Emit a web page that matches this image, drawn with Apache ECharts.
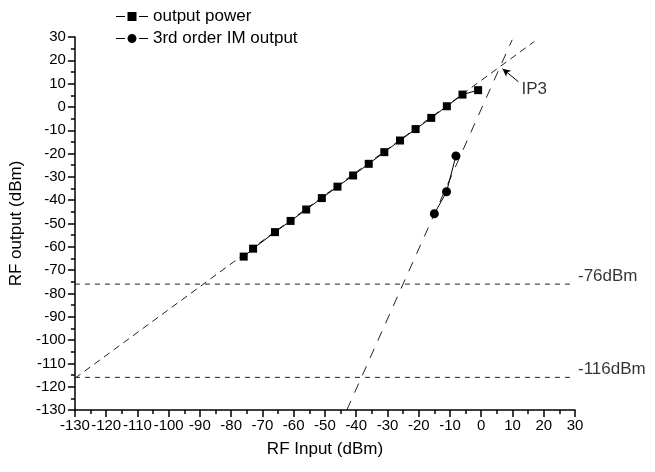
<!DOCTYPE html>
<html>
<head>
<meta charset="utf-8">
<script src="https://cdn.jsdelivr.net/npm/echarts@6/dist/echarts.min.js"></script>
<style>
html,body{margin:0;padding:0;background:#fff;}
#chart{width:655px;height:472px;}
</style>
</head>
<body>
<div id="chart"></div>
<script>
// ---- data ----
const powerIn  = [-76, -73, -66, -61, -56, -51, -46, -41, -36, -31, -26, -21, -16, -11, -6, -1];
const powerOut = [-64.2, -60.8, -53.7, -48.9, -44.0, -39.1, -34.2, -29.4, -24.4, -19.4, -14.4, -9.5, -4.7, 0.3, 5.3, 7.2];
const imIn  = [-15.0, -11.1, -8.1];
const imOut = [-45.8, -36.4, -21.0];
// extrapolation lines (end points)
const fundExtX = [-130, 17];
const fundExtY = [-116.4, 28.1];
const imExtX = [-43, 9.9];
const imExtY = [-130, 28.8];
// sensitivity / noise levels
const levels = [-76, -116];
const levelLabels = ['-76dBm', '-116dBm'];
// IP3 annotation
const ip3Tail = [11.9, 10.8];
const ip3Tip  = [6.8, 16.4];
const ip3Text = 'IP3';
// axis
const axisMin = -130, axisMax = 30, axisStep = 10;
const seriesNames = ['output power', '3rd order IM output'];

const FONT = '"Liberation Sans", Arial, sans-serif';
const zip = (a, b) => a.map((v, i) => [v, b[i]]);

// legend icons: dash - symbol - dash
const iconSquare = 'path://M0,5L9,5L9,6L0,6Z M11.5,1L20.5,1L20.5,10L11.5,10Z M23,5L32,5L32,6L23,6Z';
const iconCircle = 'path://M0,5L9,5L9,6L0,6Z M20.5,5.5A4.5,4.5 0 1 1 11.5,5.5A4.5,4.5 0 1 1 20.5,5.5Z M23,5L32,5L32,6L23,6Z';

const chart = echarts.init(document.getElementById('chart'), null, {renderer: 'canvas'});

const levelSeries = levels.map((lv) => ({
  type: 'line',
  data: [[axisMin, lv], [axisMax, lv]],
  symbol: 'none',
  silent: true,
  lineStyle: {color: '#222', width: 1, type: [5, 5]},
  z: 1
}));

const option = {
  animation: false,
  backgroundColor: '#fff',
  textStyle: {fontFamily: FONT, color: '#000'},
  grid: {left: 73, right: 80, top: 37, bottom: 62, containLabel: false},
  legend: {
    orient: 'vertical',
    left: 111,
    top: 3,
    itemWidth: 32,
    itemHeight: 9,
    itemGap: 5,
    data: [
      {name: seriesNames[0], icon: iconSquare},
      {name: seriesNames[1], icon: iconCircle}
    ],
    textStyle: {fontFamily: FONT, fontSize: 17, color: '#000', lineHeight: 17}
  },
  xAxis: {
    type: 'value',
    min: axisMin, max: axisMax, interval: axisStep,
    name: 'RF Input (dBm)',
    nameLocation: 'middle',
    nameGap: 31,
    nameTextStyle: {fontFamily: FONT, fontSize: 17, color: '#000'},
    axisLine: {show: true, onZero: false, lineStyle: {color: '#000', width: 1.5}},
    axisTick: {show: true, inside: false, length: 7, lineStyle: {color: '#000', width: 1.5}},
    minorTick: {show: true, splitNumber: 2, length: 4, lineStyle: {color: '#000', width: 1.5}},
    axisLabel: {fontFamily: FONT, fontSize: 15, color: '#000', margin: 8},
    splitLine: {show: false}
  },
  yAxis: {
    type: 'value',
    min: axisMin, max: axisMax, interval: axisStep,
    name: 'RF output (dBm)',
    nameLocation: 'middle',
    nameGap: 48,
    nameRotate: 90,
    nameTextStyle: {fontFamily: FONT, fontSize: 17, color: '#000'},
    axisLine: {show: true, onZero: false, lineStyle: {color: '#000', width: 1.5}},
    axisTick: {show: true, inside: false, length: 7, lineStyle: {color: '#000', width: 1.5}},
    minorTick: {show: true, splitNumber: 2, length: 4, lineStyle: {color: '#000', width: 1.5}},
    axisLabel: {fontFamily: FONT, fontSize: 15, color: '#000', margin: 9},
    splitLine: {show: false}
  },
  series: [
    ...levelSeries,
    {
      type: 'line',
      data: zip(fundExtX, fundExtY),
      symbol: 'none', silent: true,
      lineStyle: {color: '#222', width: 1, type: [7, 5]},
      z: 1
    },
    {
      type: 'line',
      data: zip(imExtX, imExtY),
      symbol: 'none', silent: true,
      lineStyle: {color: '#222', width: 1, type: [10, 9]},
      z: 1
    },
    {
      name: seriesNames[0],
      type: 'line',
      data: zip(powerIn, powerOut),
      symbol: 'rect',
      symbolSize: 8,
      itemStyle: {color: '#000'},
      lineStyle: {color: '#000', width: 1},
      z: 3
    },
    {
      name: seriesNames[1],
      type: 'line',
      data: zip(imIn, imOut),
      symbol: 'circle',
      symbolSize: 9,
      itemStyle: {color: '#000'},
      lineStyle: {color: '#000', width: 1},
      z: 3
    },
    {
      type: 'scatter',
      silent: true,
      symbolSize: 0,
      data: levels.map((lv, i) => ({
        value: [axisMax, lv],
        label: {
          show: true, position: 'right', distance: 3, offset: [0, -8],
          formatter: levelLabels[i],
          fontFamily: FONT, fontSize: 17, color: '#000'
        }
      })),
      z: 4
    },
    {
      type: 'scatter',
      silent: true,
      symbolSize: 0,
      data: [{
        value: ip3Tail,
        label: {
          show: true, position: 'right', distance: 2, offset: [1, 8],
          formatter: ip3Text, fontFamily: FONT, fontSize: 17, color: '#000'
        }
      }],
      markLine: {
        silent: true,
        symbol: ['none', 'arrow'],
        symbolSize: [6, 8],
        label: {show: false},
        lineStyle: {color: '#000', width: 1, type: 'solid'},
        data: [[{coord: ip3Tail}, {coord: ip3Tip}]]
      },
      z: 4
    }
  ]
};
chart.setOption(option);
</script>
</body>
</html>
